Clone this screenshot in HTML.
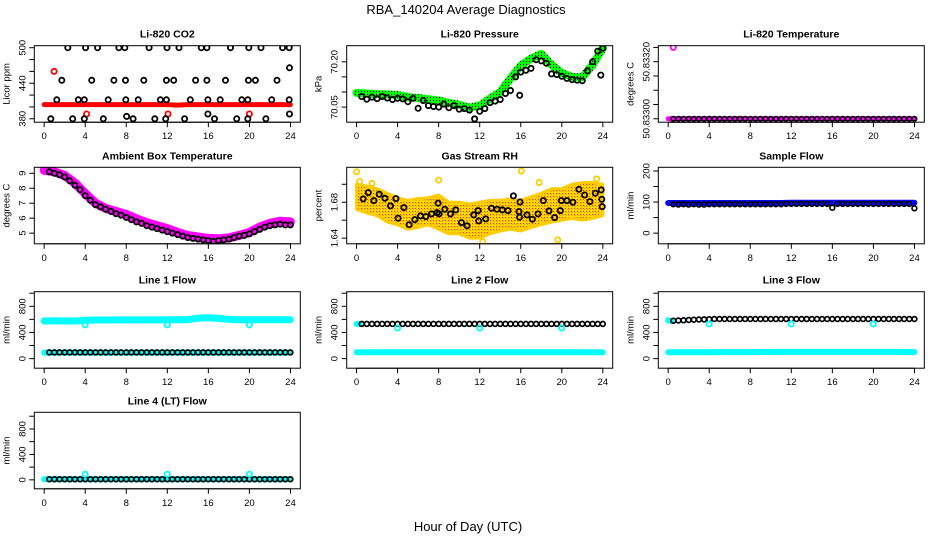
<!DOCTYPE html>
<html><head><meta charset="utf-8"><title>RBA_140204 Average Diagnostics</title>
<style>
html,body{margin:0;padding:0;background:#fff;}
svg{display:block;font-family:"Liberation Sans",Arial,sans-serif;}
</style></head>
<body>
<svg id="chart" width="936" height="540" viewBox="0 0 936 540" xmlns="http://www.w3.org/2000/svg">
<defs>
<pattern id="greenDots" width="3" height="3" patternUnits="userSpaceOnUse"><rect width="3" height="3" fill="#00ff00"/><rect x="1" y="1" width="1" height="1" fill="#000"/></pattern>
<pattern id="rhDots" width="3" height="3" patternUnits="userSpaceOnUse"><rect width="3" height="3" fill="#ffdd00"/><rect x="1" y="1" width="1" height="1" fill="#ff2000"/><rect x="2" y="2" width="1" height="1" fill="#ff9000"/></pattern>
</defs>
<rect width="936" height="540" fill="#fff"/>
<text x="466" y="14" font-size="13" text-anchor="middle">RBA_140204  Average Diagnostics</text>
<text x="468" y="531" font-size="13" text-anchor="middle">Hour of Day (UTC)</text>
</svg>
<script>
// ---------- data ----------
const hoursHourly = [0,1,2,3,4,5,6,7,8,9,10,11,12,13,14,15,16,17,18,19,20,21,22,23,24];
const hoursHalf = [0.5,1,1.5,2,2.5,3,3.5,4,4.5,5,5.5,6,6.5,7,7.5,8,8.5,9,9.5,10,10.5,11,11.5,12,12.5,13,13.5,14,14.5,15,15.5,16,16.5,17,17.5,18,18.5,19,19.5,20,20.5,21,21.5,22,22.5,23,23.5,24];
const xTicks = [0,4,8,12,16,20,24];

// CO2
const co2Red = [404,404,404,404,404,404,404,404,404,404,404,404,404,403,404,404,404,404,404,404,404,404,404,404,404];
const co2RedOutlierHours = [0.97,4.14,12.07,20.0];
const co2RedOutliers = [460,388,388,388];
const co2BlackHours = [2.30,4.04,5.21,7.28,7.86,10.23,11.97,13.14,15.31,15.86,18.16,19.94,21.13,23.24,23.88,
 1.72,4.63,6.80,7.93,9.71,11.91,12.62,14.76,15.86,17.67,19.90,20.58,22.69,
 1.23,3.33,3.91,6.24,7.96,9.16,11.33,11.91,14.24,15.96,17.15,19.26,19.84,22.17,23.88,
 8.03,15.96,23.91,23.91,
 0.65,2.78,3.91,5.76,8.67,10.78,11.84,13.69,16.60,18.76,19.84,21.61];
const co2Black = [500,500,500,500,500,500,500,500,500,500,500,500,500,500,500,
 445,445,445,445,445,445,445,445,445,445,445,445,445,
 412,412,412,412,412,412,412,412,412,412,412,412,412,412,412,
 384,388,388,466,
 380,380,380,380,380,380,380,380,380,380,380,380];

// Pressure
const pressGreen = [70.097,70.095,70.093,70.092,70.090,70.083,70.080,70.076,70.072,70.064,70.058,70.048,70.055,70.078,70.100,70.145,70.187,70.211,70.226,70.190,70.163,70.150,70.148,70.190,70.245];
const pressBlack = [70.085,70.076,70.083,70.078,70.085,70.080,70.075,70.079,70.077,70.068,70.079,70.046,70.072,70.055,70.052,70.050,70.060,70.048,70.055,70.043,70.045,70.040,70.011,70.036,70.045,70.065,70.070,70.075,70.095,70.105,70.150,70.166,70.172,70.178,70.207,70.203,70.195,70.160,70.158,70.152,70.145,70.141,70.139,70.137,70.170,70.200,70.235,70.245];
const pressOutlierHours = [15.9,23.8];
const pressOutliers = [70.089,70.156];

// Li-820 temperature
const tempMagenta = [50.833,50.833,50.833,50.833,50.833,50.833,50.833,50.833,50.833,50.833,50.833,50.833,50.833,50.833,50.833,50.833,50.833,50.833,50.833,50.833,50.833,50.833,50.833,50.833,50.833];
const tempBlack = [50.833,50.833,50.833,50.833,50.833,50.833,50.833,50.833,50.833,50.833,50.833,50.833,50.833,50.833,50.833,50.833,50.833,50.833,50.833,50.833,50.833,50.833,50.833,50.833,50.833,50.833,50.833,50.833,50.833,50.833,50.833,50.833,50.833,50.833,50.833,50.833,50.833,50.833,50.833,50.833,50.833,50.833,50.833,50.833,50.833,50.833,50.833,50.833];
const tempOutlierHours = [0.5];
const tempOutliers = [50.83325];

// Ambient box temperature
const ambMagenta = [9.2,9.1,8.85,8.35,7.65,7.0,6.65,6.45,6.25,5.95,5.7,5.5,5.3,5.05,4.85,4.75,4.65,4.62,4.68,4.85,5.05,5.4,5.65,5.8,5.75];
const ambBlack = [9.1,9.0,8.9,8.75,8.5,8.2,7.9,7.5,7.2,6.9,6.75,6.6,6.45,6.3,6.2,6.05,5.9,5.75,5.65,5.5,5.4,5.3,5.2,5.1,5.0,4.9,4.8,4.7,4.65,4.6,4.55,4.5,4.45,4.5,4.55,4.6,4.7,4.8,4.85,4.95,5.1,5.25,5.4,5.5,5.55,5.6,5.55,5.55];

// Gas stream RH
const rhUpper = [1.700,1.698,1.695,1.690,1.685,1.682,1.684,1.685,1.688,1.680,1.680,1.678,1.680,1.682,1.682,1.684,1.682,1.686,1.690,1.695,1.695,1.700,1.702,1.702,1.700];
const rhLower = [1.672,1.668,1.665,1.658,1.655,1.650,1.652,1.655,1.650,1.645,1.645,1.640,1.640,1.645,1.648,1.650,1.648,1.652,1.655,1.658,1.660,1.662,1.660,1.662,1.665];
const rhYellowHours = [0.0,16.05,8.0,12.3,0.3,23.4,17.8,1.5,19.6];
const rhYellow = [1.714,1.7148,1.7045,1.636,1.703,1.706,1.702,1.701,1.638];
const rhBlackHours = [0.65,1.14,1.69,2.21,2.76,3.31,3.83,4.05,4.61,5.12,5.68,6.23,6.75,7.30,7.85,7.95,8.04,8.60,9.15,9.67,10.22,10.77,11.42,11.84,11.90,12.58,13.14,13.69,14.21,14.76,15.28,15.83,15.93,15.89,16.61,17.13,17.68,18.20,18.75,19.30,19.85,19.95,20.50,21.08,21.67,22.22,22.74,23.26,23.84,23.90,23.94];
const rhBlack = [1.6837,1.6907,1.6818,1.6889,1.6844,1.6759,1.684,1.6622,1.674,1.655,1.6607,1.6648,1.664,1.667,1.6685,1.6789,1.667,1.6722,1.667,1.6714,1.6573,1.6537,1.6659,1.6707,1.6592,1.6614,1.6733,1.6722,1.6714,1.6707,1.687,1.6696,1.6803,1.6633,1.6659,1.6611,1.667,1.6818,1.6703,1.6629,1.6707,1.6818,1.6818,1.68,1.6944,1.6881,1.6807,1.69,1.6937,1.6833,1.6751];

// Sample flow
const sampleBlue = [97,97,97,97,97,97,97,97,97,97,97,97,98,98,98,98,98,98,98,98,98,98,98,98,98];
const sampleBlack = [93,92,93,92,93,92,92,93,93,93,93,93,93,93,93,93,93,93,93,93,93,93,94,94,94,94,94,94,94,94,94,82,94,94,94,94,94,94,94,94,94,94,94,94,94,94,94,80];

// Line flows
const line1CyanHigh = [575,580,575,575,585,590,590,592,592,592,592,592,593,593,595,620,625,615,600,595,595,595,595,595,595];
const line1CyanLow = [92,92,92,92,92,92,92,92,92,92,92,92,92,92,92,92,92,92,92,92,92,92,92,92,92];
const line1Black = [95,95,95,95,95,95,95,95,95,95,95,95,95,95,95,95,95,95,95,95,95,95,95,95,95,95,95,95,95,95,95,95,95,95,95,95,95,95,95,95,95,95,95,95,95,95,95,95];
const flowOutlierHours = [4,12,20];
const line1Outliers = [515,515,515];

const line2CyanLow = [98,96,96,96,96,96,96,96,97,97,97,97,98,98,98,98,98,98,98,98,98,98,98,98,98];
const line2Black = [530,530,530,530,530,530,530,530,530,530,530,530,530,530,530,530,530,530,530,530,530,530,530,530,530,530,530,530,530,530,530,530,530,530,530,530,530,530,530,530,530,530,530,530,530,530,530,530];
const line2CyanStartHours = [0,0.3];
const line2CyanStart = [530,530];
const line2Outliers = [468,468,468];

const line3CyanLow = [98,98,98,98,98,100,100,100,100,100,102,102,102,102,102,102,102,102,102,102,102,102,102,102,100];
const line3Black = [580,582,585,590,595,598,600,602,605,605,605,605,605,605,605,605,605,605,605,605,605,605,605,605,605,605,605,605,605,605,605,605,605,605,605,605,605,605,605,605,605,605,605,605,605,605,605,605];
const line3CyanStartHours = [0,0.3];
const line3CyanStart = [585,575];
const line3Outliers = [530,530,530];

const line4Cyan = [10,10,10,10,10,10,10,10,10,10,10,10,10,10,10,10,10,10,10,10,10,10,10,10,10];
const line4Black = [10,10,10,10,10,10,10,10,10,10,10,10,10,10,10,10,10,10,10,10,10,10,10,10,10,10,10,10,10,10,10,10,10,10,10,10,10,10,10,10,10,10,10,10,10,10,10,10];
const line4Outliers = [89,89,89];

const co2Ticks = [380,400,420,440,460,480,500];
const co2TickLabels = ["380","","","440","","","500"];
const pressTicks = [70.05,70.10,70.15,70.20];
const pressTickLabels = ["70.05","","","70.20"];
const tempTicks = [50.833,50.83305,50.8331,50.83315,50.8332,50.83325];
const tempTickLabels = ["50.83300","","","","50.83320",""];
const ambTicks = [5,6,7,8,9];
const ambTickLabels = ["5","6","7","8","9"];
const rhTicks = [1.64,1.66,1.68,1.70];
const rhTickLabels = ["1.64","","1.68",""];
const sampleTicks = [0,50,100,150,200];
const sampleTickLabels = ["0","","100","","200"];
const flowTicks = [0,200,400,600,800,1000];
const flowTickLabels = ["0","","400","","800",""];

// ---------- drawing ----------
const NS = "http://www.w3.org/2000/svg";
const svg = document.getElementById("chart");
const colX = [34.3, 346.7, 658.3];
const rowY = [45.7, 167.3, 291.7, 412.3];
const boxW = 266, boxH = 76.5;

function el(tag, parent) { const e = document.createElementNS(NS, tag); parent.appendChild(e); return e; }

function makePanel(name, col, row, yMin, yMax, title, yTitle, ticks, labels) {
  const left = colX[col], top = rowY[row];
  const g = el("g", svg);
  
  
  const xs = h => left + (h + 0.96) * boxW / 25.92;
  const ys = v => top + boxH - (v - yMin) / (yMax - yMin) * boxH;
  const t = el("text", g);
  
  
  t.setAttribute("x", left + boxW / 2); t.setAttribute("y", top - 8);
  t.setAttribute("font-size", "10.5"); t.setAttribute("font-weight", "bold"); t.setAttribute("text-anchor", "middle");
  t.textContent = title;
  const yt = el("text", g);
  
  
  yt.setAttribute("transform", `translate(${left - 25},${top + boxH / 2}) rotate(-90)`);
  yt.setAttribute("font-size", "9.5"); yt.setAttribute("text-anchor", "middle");
  yt.textContent = yTitle;
  const xa = el("g", g);
  
  
  const base = el("line", xa);
  
  
  base.setAttribute("x1", xs(0)); base.setAttribute("x2", xs(24));
  base.setAttribute("y1", top + boxH); base.setAttribute("y2", top + boxH); base.setAttribute("stroke", "#000");
  xTicks.forEach(h => {
    const tk = el("line", xa);
    
    
    tk.setAttribute("x1", xs(h)); tk.setAttribute("x2", xs(h));
    tk.setAttribute("y1", top + boxH); tk.setAttribute("y2", top + boxH + 5); tk.setAttribute("stroke", "#000");
    const tl = el("text", xa);
    
    
    tl.setAttribute("x", xs(h)); tl.setAttribute("y", top + boxH + 17);
    tl.setAttribute("font-size", "9.5"); tl.setAttribute("text-anchor", "middle");
    tl.textContent = String(h);
  });
  const ya = el("g", g);
  
  
  ticks.forEach((v, i) => {
    const tk = el("line", ya);
    
    
    tk.setAttribute("x1", left - 5); tk.setAttribute("x2", left);
    tk.setAttribute("y1", ys(v)); tk.setAttribute("y2", ys(v)); tk.setAttribute("stroke", "#000");
    if (labels[i]) {
      const tl = el("text", ya);
      
      
      tl.setAttribute("transform", `translate(${left - 9},${ys(v)}) rotate(-90)`);
      tl.setAttribute("font-size", "9.5"); tl.setAttribute("text-anchor", "middle");
      tl.textContent = labels[i];
    }
  });
  const clipId = name + "-clip";
  const cp = el("clipPath", g); cp.setAttribute("id", clipId);
  const cr = el("rect", cp);
  cr.setAttribute("x", left); cr.setAttribute("y", top); cr.setAttribute("width", boxW); cr.setAttribute("height", boxH);
  const plot = el("g", g);
  
  
  plot.setAttribute("clip-path", `url(#${clipId})`);
  const box = el("rect", g);
  
  
  box.setAttribute("x", left); box.setAttribute("y", top); box.setAttribute("width", boxW); box.setAttribute("height", boxH);
  box.setAttribute("fill", "none"); box.setAttribute("stroke", "#000");
  return { g: plot, xs, ys };
}

function band(p, name, hours, vals, stroke, width) {
  const pl = el("polyline", p.g);
  
  
  pl.setAttribute("points", hours.map((h, i) => p.xs(h).toFixed(1) + "," + p.ys(vals[i]).toFixed(1)).join(" "));
  pl.setAttribute("fill", "none"); pl.setAttribute("stroke", stroke);
  pl.setAttribute("stroke-width", width); pl.setAttribute("stroke-linecap", "round"); pl.setAttribute("stroke-linejoin", "round");
}

function points(p, name, hours, vals, color, r, sw) {
  const gg = el("g", p.g);
  
  
  hours.forEach((h, i) => {
    const c = el("circle", gg);
    
    
    c.setAttribute("cx", p.xs(h).toFixed(1)); c.setAttribute("cy", p.ys(vals[i]).toFixed(1));
    c.setAttribute("r", r || 2.6); c.setAttribute("fill", "none");
    c.setAttribute("stroke", color); c.setAttribute("stroke-width", sw || 1.8);
  });
}

// Row 1
let p = makePanel("co2", 0, 0, 374.2, 503.4, "Li-820 CO2", "Licor ppm", co2Ticks, co2TickLabels);
band(p, "co2-red-series", hoursHourly, co2Red, "#ff0000", 5);
points(p, "co2-red-outliers", co2RedOutlierHours, co2RedOutliers, "#ff0000");
points(p, "co2-black-series", co2BlackHours, co2Black, "#000");

p = makePanel("pressure", 1, 0, 70.0, 70.2533, "Li-820 Pressure", "kPa", pressTicks, pressTickLabels);
band(p, "pressure-green-series", hoursHourly, pressGreen, "url(#greenDots)", 8);
points(p, "pressure-black-series", hoursHalf, pressBlack, "#000");
points(p, "pressure-black-outliers", pressOutlierHours, pressOutliers, "#000");

p = makePanel("li820-temp", 2, 0, 50.832988, 50.833256, "Li-820 Temperature", "degrees C", tempTicks, tempTickLabels);
band(p, "temp-magenta-series", hoursHourly, tempMagenta, "#ff00ff", 5);
points(p, "temp-black-series", hoursHalf, tempBlack, "#000", 2.3, 1.6);
points(p, "temp-magenta-outliers", tempOutlierHours, tempOutliers, "#ff00ff");

// Row 2
p = makePanel("ambient", 0, 1, 4.287, 9.4, "Ambient Box Temperature", "degrees C", ambTicks, ambTickLabels);
band(p, "ambient-magenta-series", hoursHourly, ambMagenta, "#ff00ff", 9);
points(p, "ambient-black-series", hoursHalf, ambBlack, "#000");

p = makePanel("rh", 1, 1, 1.6337, 1.7189, "Gas Stream RH", "percent", rhTicks, rhTickLabels);
(function () {
  const poly = el("polygon", p.g);
  
  
  const up = hoursHourly.map((h, i) => p.xs(h).toFixed(1) + "," + p.ys(rhUpper[i]).toFixed(1));
  const lo = hoursHourly.map((h, i) => p.xs(h).toFixed(1) + "," + p.ys(rhLower[i]).toFixed(1)).reverse();
  poly.setAttribute("points", up.concat(lo).join(" "));
  poly.setAttribute("fill", "url(#rhDots)"); poly.setAttribute("stroke", "#ffcc00"); poly.setAttribute("stroke-width", "3");
  poly.setAttribute("stroke-linejoin", "round");
})();
points(p, "rh-yellow-outliers", rhYellowHours, rhYellow, "#ffcc00");
points(p, "rh-black-series", rhBlackHours, rhBlack, "#000");

p = makePanel("sample-flow", 2, 1, -34.3, 211.9, "Sample Flow", "ml/min", sampleTicks, sampleTickLabels);
band(p, "sample-blue-series", hoursHourly, sampleBlue, "#0000ff", 6);
points(p, "sample-black-series", hoursHalf, sampleBlack, "#000", 2.4, 1.6);

// Row 3
p = makePanel("line1", 0, 2, -146.6, 1023, "Line 1 Flow", "ml/min", flowTicks, flowTickLabels);
band(p, "line1-cyan-high", hoursHourly, line1CyanHigh, "#00ffff", 7);
band(p, "line1-cyan-low", hoursHourly, line1CyanLow, "#00ffff", 6);
points(p, "line1-black-series", hoursHalf, line1Black, "#000", 2.4, 1.7);
points(p, "line1-cyan-outliers", flowOutlierHours, line1Outliers, "#00ffff");

p = makePanel("line2", 1, 2, -146.6, 1023, "Line 2 Flow", "ml/min", flowTicks, flowTickLabels);
band(p, "line2-cyan-low", hoursHourly, line2CyanLow, "#00ffff", 6);
band(p, "line2-cyan-start", line2CyanStartHours, line2CyanStart, "#00ffff", 6);
points(p, "line2-black-series", hoursHalf, line2Black, "#000", 2.4, 1.7);
points(p, "line2-cyan-outliers", flowOutlierHours, line2Outliers, "#00ffff");

p = makePanel("line3", 2, 2, -146.6, 1023, "Line 3 Flow", "ml/min", flowTicks, flowTickLabels);
band(p, "line3-cyan-low", hoursHourly, line3CyanLow, "#00ffff", 6);
band(p, "line3-cyan-start", line3CyanStartHours, line3CyanStart, "#00ffff", 6);
points(p, "line3-black-series", hoursHalf, line3Black, "#000", 2.4, 1.7);
points(p, "line3-cyan-outliers", flowOutlierHours, line3Outliers, "#00ffff");

// Row 4
p = makePanel("line4", 0, 3, -141, 1062, "Line 4 (LT) Flow", "ml/min", flowTicks, flowTickLabels);
band(p, "line4-cyan-series", hoursHourly, line4Cyan, "#00ffff", 6);
points(p, "line4-black-series", hoursHalf, line4Black, "#000", 2.4, 1.7);
points(p, "line4-cyan-outliers", flowOutlierHours, line4Outliers, "#00ffff");
</script>
</body></html>
